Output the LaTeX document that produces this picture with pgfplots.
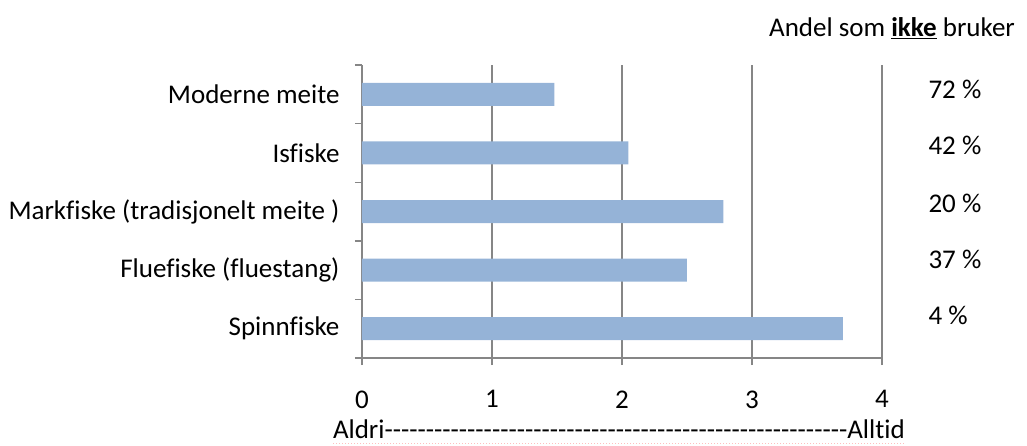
\documentclass[border=0pt]{standalone}
\usepackage{fontspec}
\setmainfont[Ligatures=NoCommon]{Carlito}
\usepackage{pgfplots}
\pgfplotsset{compat=1.18}
\usepackage{pgfplotstable}

\definecolor{barblue}{HTML}{95B3D7}
\definecolor{gridgray}{HTML}{868686}

% mean score per fishing method (0 = aldri, 4 = alltid)
\pgfplotstableread{
y x
0 3.70
1 2.50
2 2.78
3 2.05
4 1.48
}\mean

% share that does not use the method
\pgfplotstableread[col sep=comma]{
x,y,lab
4,0.22,4~\%
4,1.19,37~\%
4,2.13,20~\%
4,3.12,42~\%
4,4.09,72~\%
}\share

\begin{document}
\begin{tikzpicture}[font=\fontsize{27}{32}\selectfont]
\begin{axis}[
    at={(0,0)}, anchor=south west,
    scale only axis,
    width=520pt, height=293pt,
    xmin=0, xmax=4,
    ymin=-0.5, ymax=4.5,
    clip=false,
    axis x line*=bottom,
    axis y line*=left,
    axis line style={gridgray, line width=1.4pt},
    xtick={0,1,2,3,4},
    ytick={-0.5,0.5,1.5,2.5,3.5,4.5},
    yticklabels={Spinnfiske, Fluefiske (fluestang), Markfiske (tradisjonelt meite ), Isfiske, Moderne meite, {}},
    yticklabel style={yshift=29.3pt, xshift=-12pt},
    xticklabel style={yshift=-22pt},
    /pgf/number format/assume math mode=true,
    tick align=outside,
    major tick length=7pt,
    tick style={gridgray, line width=1.4pt},
    xmajorgrids=true,
    grid style={gridgray, line width=1.4pt},
    tick label style={font=\fontsize{27}{32}\selectfont},
]
\addplot[xbar, bar width=23pt, fill=barblue, draw=none] table[x=x, y=y] {\mean};
\addplot[draw=none, mark=none, forget plot,
    nodes near coords, point meta=explicit symbolic,
    nodes near coords style={anchor=west, xshift=43pt, font=\fontsize{27}{32}\selectfont}]
    table[x=x, y=y, meta=lab] {\share};
\end{axis}
\node at (530pt,330pt) {Andel som \underline{\textbf{ikke}} bruker};
\node at (257pt,-71pt) {\makebox[572pt]{Aldri\xleaders\hbox{-}\hfill Alltid}};
\draw[red!25, dotted, line width=1pt] (-29pt,-85pt) -- (543pt,-85pt);
\pgfresetboundingbox
\useasboundingbox (-362pt,-87pt) rectangle (665pt,358pt);
\end{tikzpicture}
\end{document}
